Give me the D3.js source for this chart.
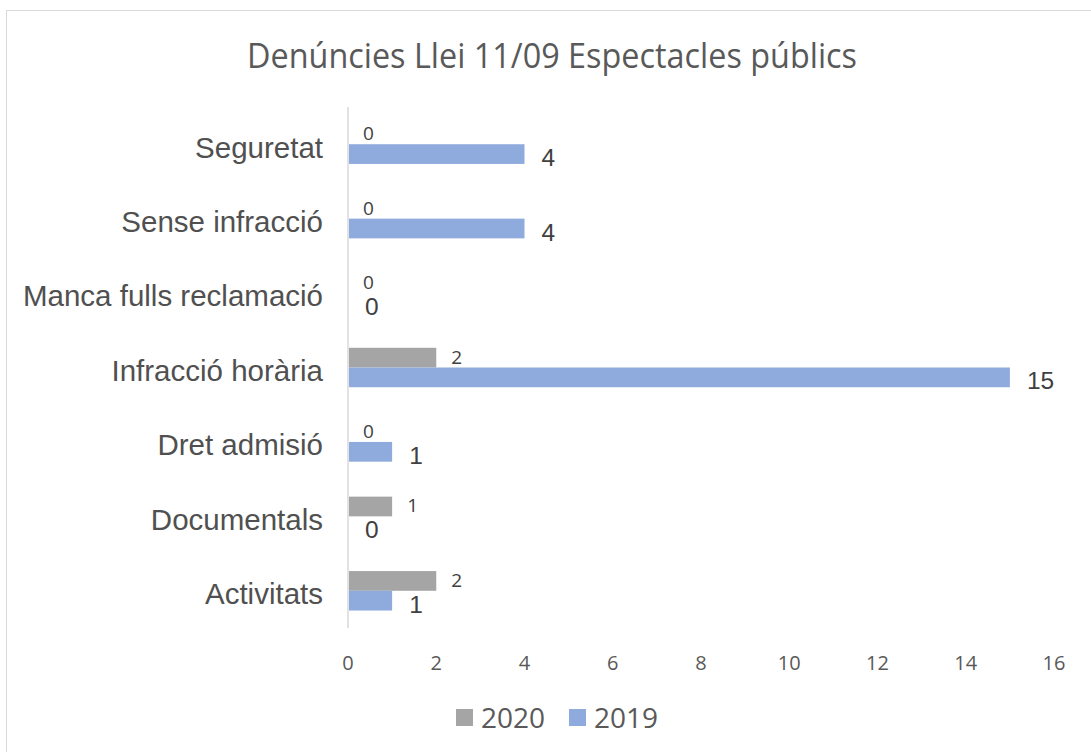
<!DOCTYPE html>
<html>
<head>
<meta charset="utf-8">
<script src="https://cdn.jsdelivr.net/npm/d3@7"></script>
<style>
  body { margin: 0; background: #fff; }
  svg { display: block; }
</style>
</head>
<body>
<div id="chart"></div>
<script>
// chart data
var categories = ["Seguretat", "Sense infracció", "Manca fulls reclamació", "Infracció horària", "Dret admisió", "Documentals", "Activitats"];
var values2020 = [0, 0, 0, 2, 0, 1, 2];
var values2019 = [4, 4, 0, 15, 1, 0, 1];
var xTicks = [0, 2, 4, 6, 8, 10, 12, 14, 16];
var seriesNames = ["2020", "2019"];
var seriesColors = ["#a5a5a5", "#8faadc"];

var width = 1091, height = 752;

var svg = d3.select("#chart").append("svg")
    .attr("width", width)
    .attr("height", height);

// outer border
svg.append("rect")
    .attr("x", 6.5).attr("y", 10.5)
    .attr("width", width).attr("height", height)
    .attr("fill", "none")
    .attr("stroke", "#d9d9d9");

// title
svg.append("text")
    .attr("x", 552).attr("y", 68)
    .attr("text-anchor", "middle")
    .attr("font-family", "Open Sans, sans-serif")
    .attr("font-size", 34)
    .attr("fill", "#595959")
    .attr("textLength", 610)
    .attr("lengthAdjust", "spacingAndGlyphs")
    .text("Denúncies Llei 11/09 Espectacles públics");

var x = d3.scaleLinear().domain([0, 16]).range([348, 1054]);
var y = d3.scaleBand().domain(categories).range([107, 628]).paddingInner(0.47).paddingOuter(0.235);
var inner = d3.scaleBand().domain(seriesNames).range([0, y.bandwidth()]);

// vertical axis line
svg.append("line")
    .attr("x1", x(0)).attr("x2", x(0))
    .attr("y1", 107).attr("y2", 628)
    .attr("stroke", "#d9d9d9")
    .attr("stroke-width", 1.5);

// category labels
svg.append("g").selectAll("text")
    .data(categories)
    .enter().append("text")
    .attr("x", 323)
    .attr("y", function(d){ return y(d) + y.bandwidth() / 2 + 3; })
    .attr("dy", "0.35em")
    .attr("text-anchor", "end")
    .attr("font-family", "Liberation Sans, Arial, sans-serif")
    .attr("font-size", 29.5)
    .attr("fill", "#505050")
    .text(function(d){ return d; });

// x axis tick labels
svg.append("g").selectAll("text")
    .data(xTicks)
    .enter().append("text")
    .attr("x", function(d){ return x(d); })
    .attr("y", 670)
    .attr("text-anchor", "middle")
    .attr("font-family", "Open Sans, sans-serif")
    .attr("font-size", 20)
    .attr("fill", "#595959")
    .text(function(d){ return d; });

var series = [values2020, values2019];
var labelSizes = [19, 24.5];
var labelFonts = ["Open Sans, sans-serif", "Liberation Sans, Arial, sans-serif"];
var labelBase = [6, 12];
var labelOffset = [15, 17];

series.forEach(function(vals, si){
    var g = svg.append("g");
    var name = seriesNames[si];
    g.selectAll("rect")
        .data(vals)
        .enter().append("rect")
        .attr("x", x(0) + 1)
        .attr("y", function(d, i){ return y(categories[i]) + inner(name); })
        .attr("width", function(d){ return Math.max(0, x(d) - x(0) - 1); })
        .attr("height", inner.bandwidth())
        .attr("fill", seriesColors[si]);
    g.selectAll("text")
        .data(vals)
        .enter().append("text")
        .attr("x", function(d){ return x(d) + labelOffset[si]; })
        .attr("y", function(d, i){ return y(categories[i]) + inner(name) + inner.bandwidth() / 2 + labelBase[si]; })
        .attr("font-family", labelFonts[si])
        .attr("font-size", labelSizes[si])
        .attr("fill", "#404040")
        .text(function(d){ return d; });
});

// legend
var legend = svg.append("g");
var legendX = [456, 569];
seriesNames.forEach(function(name, i){
    legend.append("rect")
        .attr("x", legendX[i]).attr("y", 709)
        .attr("width", 17).attr("height", 17)
        .attr("fill", seriesColors[i]);
    legend.append("text")
        .attr("x", legendX[i] + 25).attr("y", 728)
        .attr("font-family", "Open Sans, sans-serif")
        .attr("font-size", 28)
        .attr("fill", "#595959")
        .text(name);
});
</script>
</body>
</html>
